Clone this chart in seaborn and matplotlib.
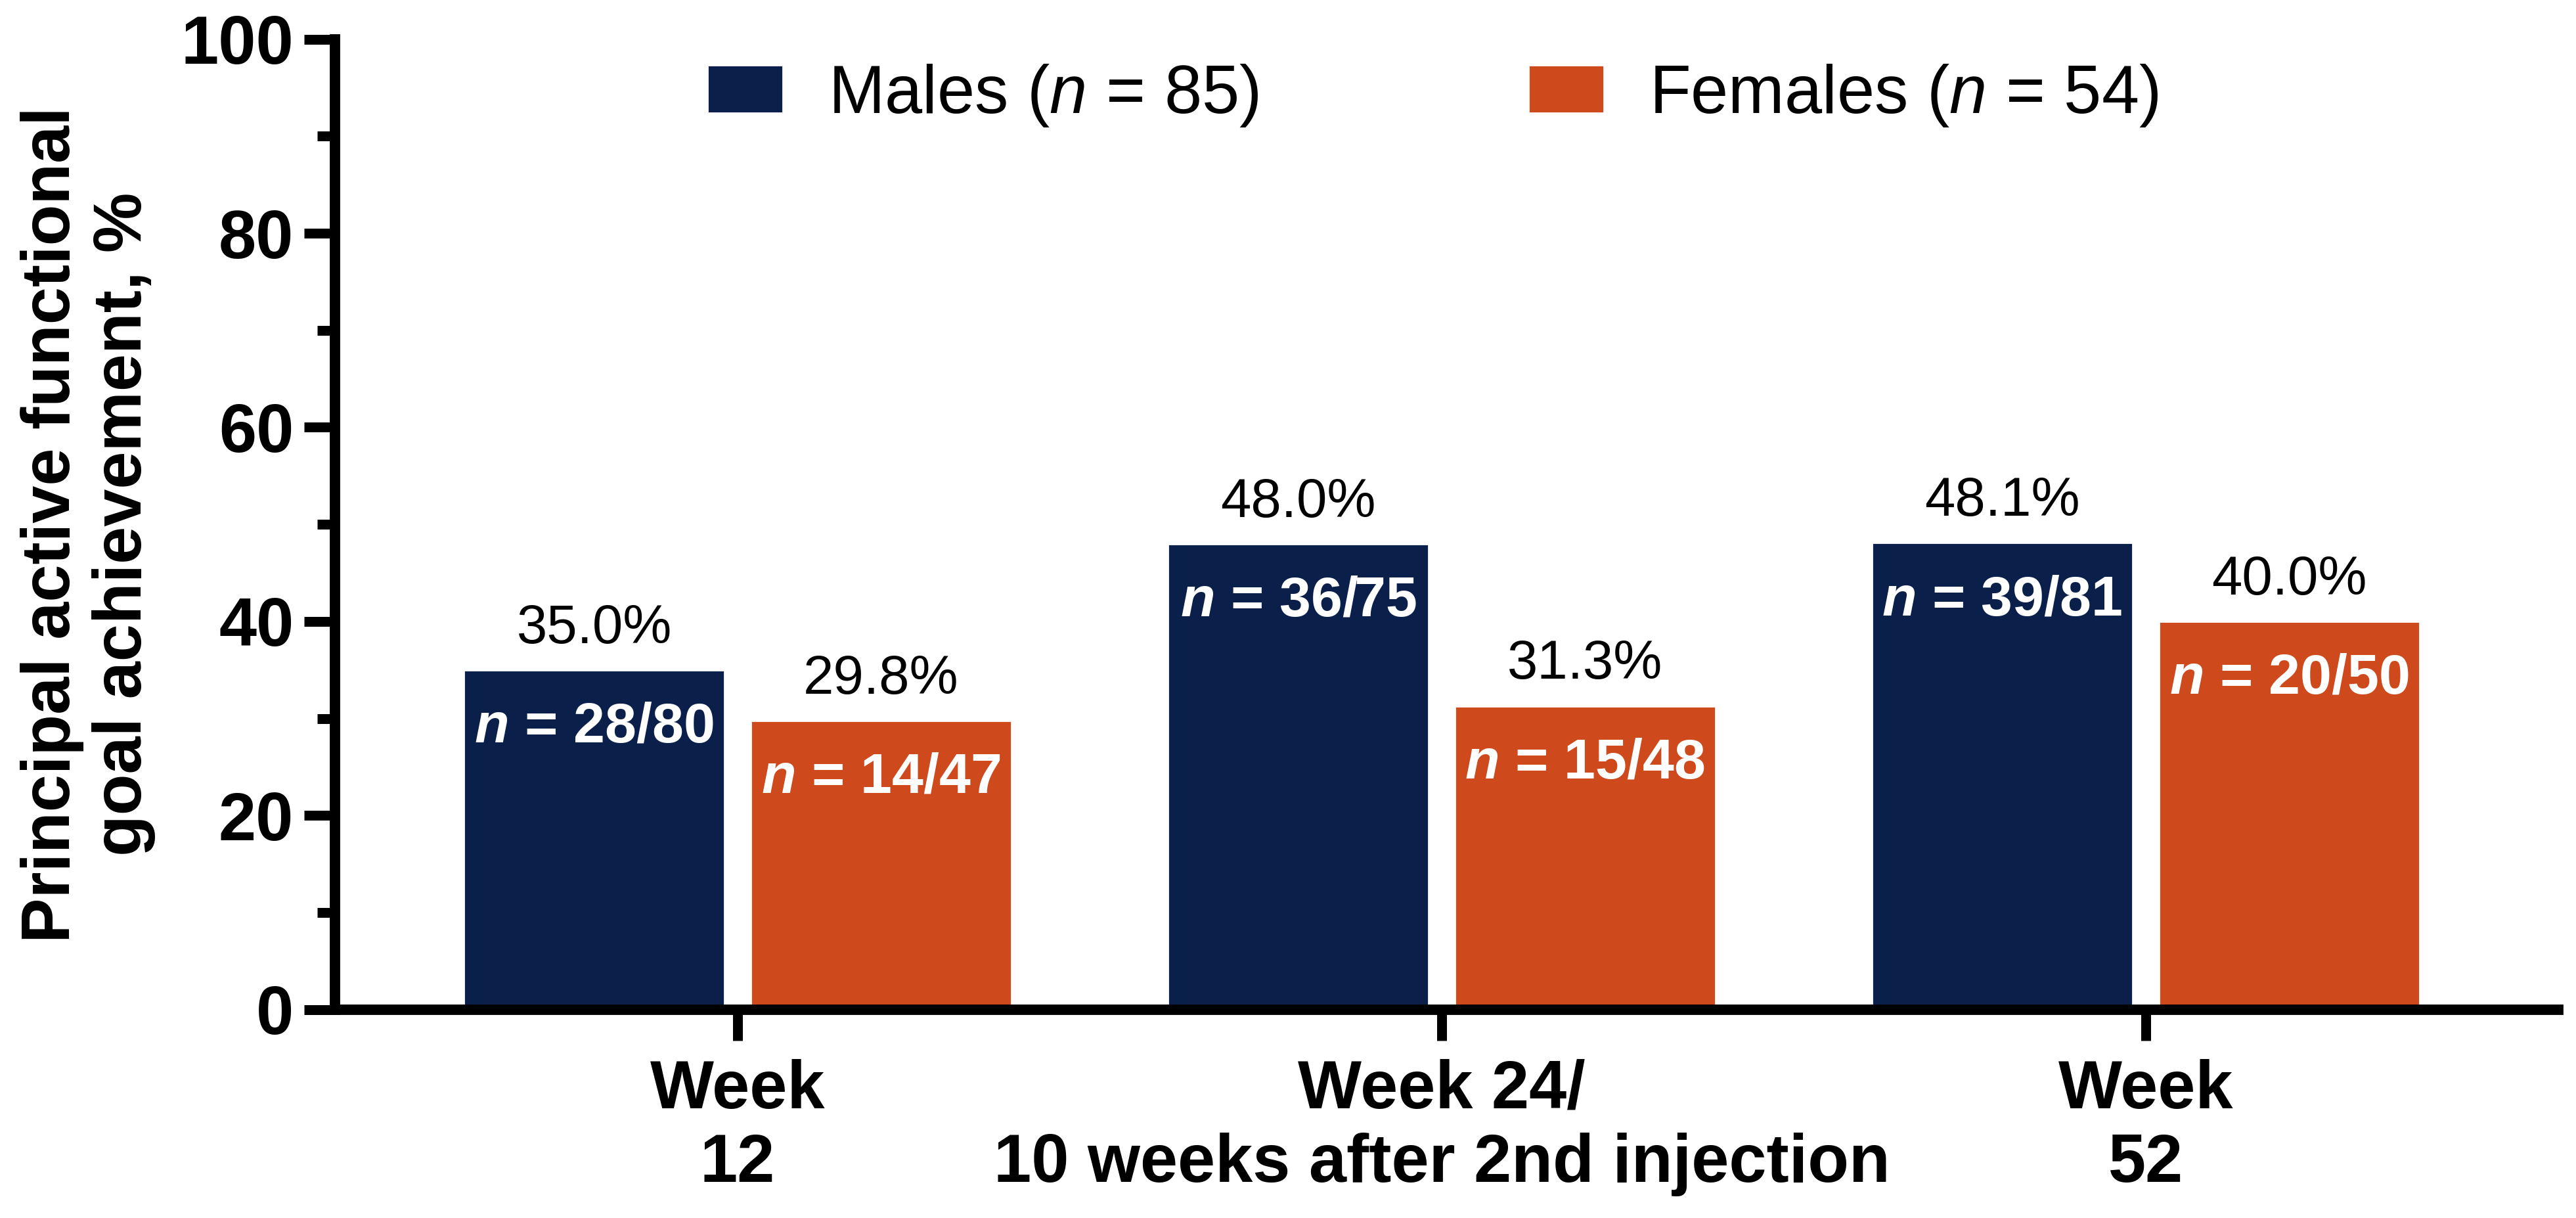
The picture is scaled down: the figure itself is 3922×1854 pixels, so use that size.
import matplotlib
matplotlib.use("Agg")
import matplotlib.pyplot as plt
from matplotlib.ticker import MultipleLocator
import seaborn as sns
import pandas as pd

# values
timepoints = ["Week\n12", "Week 24/\n10 weeks after 2nd injection", "Week\n52"]
groups = ["Males", "Females"]
males_pct = [35.0, 48.0, 48.1]
females_pct = [29.8, 31.3, 40.0]
males_n = ["28/80", "36/75", "39/81"]
females_n = ["14/47", "15/48", "20/50"]
legend_labels = ["Males ($\\mathit{n}$ = 85)", "Females ($\\mathit{n}$ = 54)"]

navy = "#0B1F4B"
orange = "#CE4A1D"

sns.set_style("ticks")
plt.rcParams["font.family"] = ["Liberation Sans", "DejaVu Sans"]
plt.rcParams["mathtext.fontset"] = "custom"
plt.rcParams["mathtext.rm"] = "Liberation Sans"
plt.rcParams["mathtext.it"] = "Liberation Sans:italic"
plt.rcParams["mathtext.bf"] = "Liberation Sans:bold"
plt.rcParams["mathtext.bfit"] = "Liberation Sans:bold:italic"
plt.rcParams["text.color"] = "black"
plt.rcParams["axes.labelcolor"] = "black"
plt.rcParams["xtick.color"] = "black"
plt.rcParams["ytick.color"] = "black"
plt.rcParams["xtick.labelcolor"] = "black"
plt.rcParams["ytick.labelcolor"] = "black"

df = pd.DataFrame({
    "time": timepoints * 2,
    "sex": [groups[0]] * 3 + [groups[1]] * 3,
    "pct": males_pct + females_pct,
})

fig = plt.figure(figsize=(19.61, 9.27), dpi=200)
ax = fig.add_axes([0.130, 0.171, 0.8631, 0.7969])

sns.barplot(data=df, x="time", y="pct", hue="sex", palette=[navy, orange],
            width=0.815, gap=0.092, saturation=1, ax=ax, errorbar=None)

ax.set_ylim(0, 100)
ax.set_xlim(-0.572, 2.586)
ax.yaxis.set_major_locator(MultipleLocator(20))
ax.yaxis.set_minor_locator(MultipleLocator(10))

sns.despine(ax=ax)
for side in ["left", "bottom"]:
    ax.spines[side].set_linewidth(5.7)
    ax.spines[side].set_color("black")
    ax.spines[side].set_capstyle("projecting")

ax.tick_params(axis="y", which="major", length=17, width=5.4, pad=5.5,
               labelsize=37, color="black", labelcolor="black")
ax.tick_params(axis="y", which="minor", length=9.7, width=5.4, color="black")
ax.tick_params(axis="x", which="major", length=17, width=5.4, pad=10,
               labelsize=37, color="black", labelcolor="black")
for lbl in ax.get_yticklabels() + ax.get_xticklabels():
    lbl.set_fontweight("bold")

ax.set_xlabel("")
ax.set_ylabel("Principal active functional\ngoal achievement, %",
              fontsize=37, fontweight="bold", labelpad=14, linespacing=1.15,
              color="black")

# percentage labels above bars, n labels inside bars
all_n = [males_n, females_n]
all_pct = [males_pct, females_pct]
for cont, pcts, ns in zip(ax.containers, all_pct, all_n):
    for bar, p, n in zip(cont, pcts, ns):
        cx = bar.get_x() + bar.get_width() / 2
        top = bar.get_height()
        ax.annotate(f"{p:.1f}%", xy=(cx, top), xytext=(0, 14.8),
                    textcoords="offset points", ha="center", va="baseline",
                    fontsize=30, color="black")
        ax.annotate(f"$\\mathbfit{{n}}$ = {n}", xy=(cx, top), xytext=(0, -39.6),
                    textcoords="offset points", ha="center", va="baseline",
                    fontsize=31, fontweight="bold", color="white")

handles, _ = ax.get_legend_handles_labels()
leg = ax.legend(handles, legend_labels, loc="center left", bbox_to_anchor=(0.1675, 0.942),
                ncol=2, frameon=False, fontsize=37, handlelength=1.12, handleheight=0.72,
                handletextpad=0.67, columnspacing=4.0, borderpad=0, borderaxespad=0)
for t in leg.get_texts():
    t.set_color("black")

fig.savefig("out.png", dpi=200)
